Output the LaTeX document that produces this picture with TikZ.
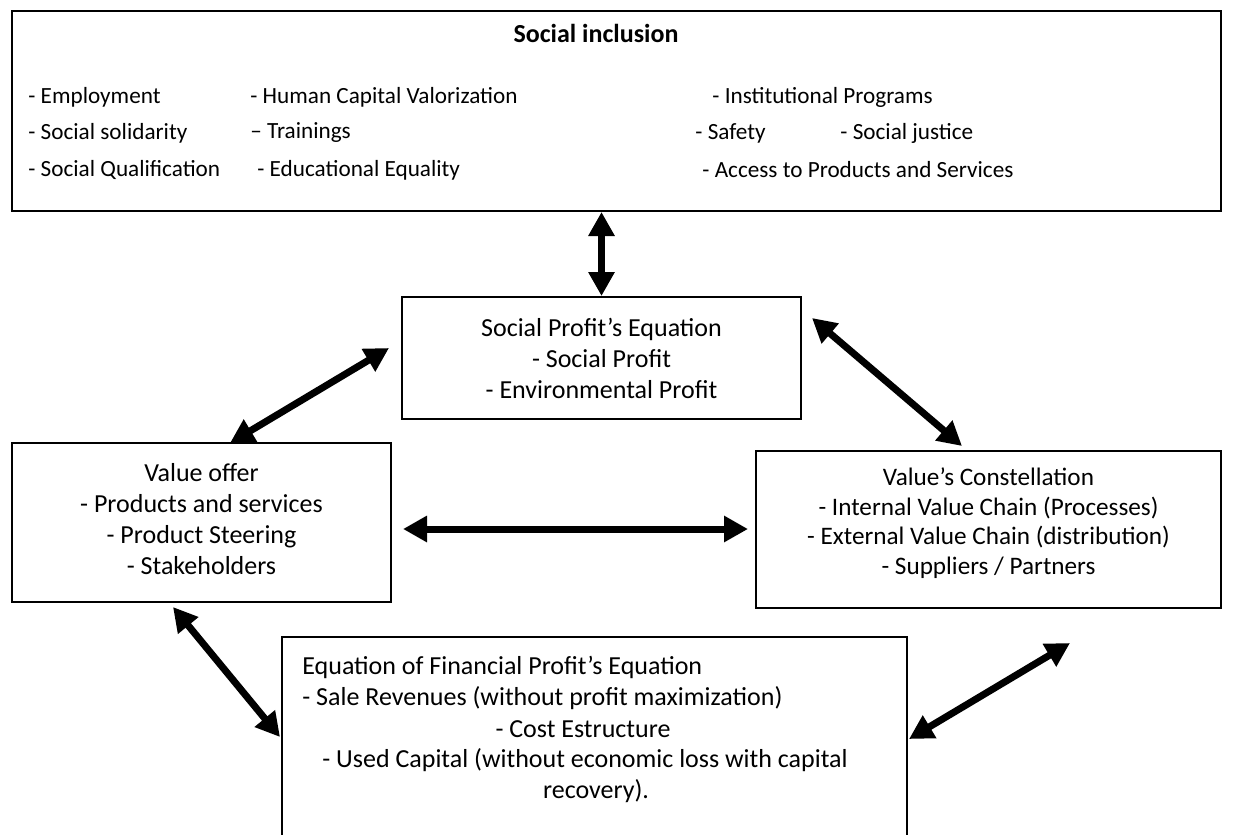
\documentclass[tikz,border=0pt]{standalone}
\usepackage{fontspec}
\setmainfont{Carlito}
\usetikzlibrary{arrows.meta,calc}
\begin{document}
\begin{tikzpicture}[x=0.5pt,y=-0.5pt,
  box/.style={draw, line width=1pt, inner sep=0pt, align=center,
    font=\fontsize{13}{15.5}\selectfont},
  lt/.style={inner sep=0pt, anchor=west, font=\fontsize{13}{15.5}\selectfont},
  ct/.style={inner sep=0pt, font=\fontsize{13}{15.5}\selectfont},
  row/.style={inner sep=0pt, anchor=west, font=\fontsize{11.6}{14}\selectfont},
  dbl/.style={line width=3.5pt, {Triangle[length=12pt,width=12.5pt]}-{Triangle[length=12pt,width=12.5pt]}}
]
\path[use as bounding box, clip] (0,0) rectangle (1240,834);
\fill[white] (0,0) rectangle (1240,834);

% Social inclusion box
\node[box, minimum width=604.5pt, minimum height=100pt] (top) at (616.5,111) {};
\node[ct, font=\fontsize{13}{15.5}\selectfont\bfseries] (title) at (596,33) {Social inclusion};
\node[row] (t11) at (28,97) {- Employment};
\node[row] (t21) at (28,133) {- Social solidarity};
\node[row] (t31) at (28,170) {- Social Qualification};
\node[row] (t12) at (250,97) {- Human Capital Valorization};
\node[row] (t22) at (250,133) {– Trainings};
\node[row] (t32) at (257,170) {- Educational Equality};
\node[row] (t13) at (712,97) {- Institutional Programs};
\node[row] (t23) at (695,133) {- Safety};
\node[row] (t24) at (840,133) {- Social justice};
\node[row] (t33) at (702,170) {- Access to Products and Services};

% Social profit's equation
\node[box, minimum width=199.5pt, minimum height=61pt] (sp) at (601.5,358)
  {Social Profit’s Equation\\- Social Profit\\- Environmental Profit};

% Value offer
\node[box, minimum width=189.5pt, minimum height=79.5pt] (vo) at (201.5,522.5) {};
\node[ct, align=center] (vot) at (201.5,519) {Value offer\\- Products and services\\- Product Steering\\- Stakeholders};

% Value's constellation
\node[box, minimum width=232.5pt, minimum height=78.5pt] (vc) at (988.5,529.5) {};
\node[ct, align=center, font=\fontsize{12.6}{14.8}\selectfont] (vct) at (988.5,523) {Value’s Constellation\\- Internal Value Chain (Processes)\\- External Value Chain (distribution)\\- Suppliers / Partners};

% Financial profit
\node[box, minimum width=312.5pt, minimum height=116.5pt] (fp) at (594.5,753.5) {};
\node[lt] (f1) at (302,667) {Equation of Financial Profit’s Equation};
\node[lt] (f2) at (302,698) {- Sale Revenues (without profit maximization)};
\node[ct] (f3) at (583,729) {- Cost Estructure};
\node[lt] (f4) at (322,760) {- Used Capital (without economic loss with capital};
\node[ct] (f5) at (596,791) {recovery).};

% connector ends
\coordinate (a2a) at (230,443);
\coordinate (a2b) at (389,348);
\coordinate (a3a) at (812,318);
\coordinate (a3b) at (962,446);
\coordinate (a4a) at (403,529);
\coordinate (a4b) at (748,529);
\coordinate (a5a) at (173,607);
\coordinate (a5b) at (280,737);
\coordinate (a6a) at (909,739);
\coordinate (a6b) at (1070,643);

\draw[dbl] (top.south -| sp.north) -- (sp.north);
\draw[dbl] (a2a) -- (a2b);
\draw[dbl] (a3a) -- (a3b);
\draw[dbl] (a4a) -- (a4b);
\draw[dbl] (a5a) -- (a5b);
\draw[dbl] (a6a) -- (a6b);
\end{tikzpicture}
\end{document}
